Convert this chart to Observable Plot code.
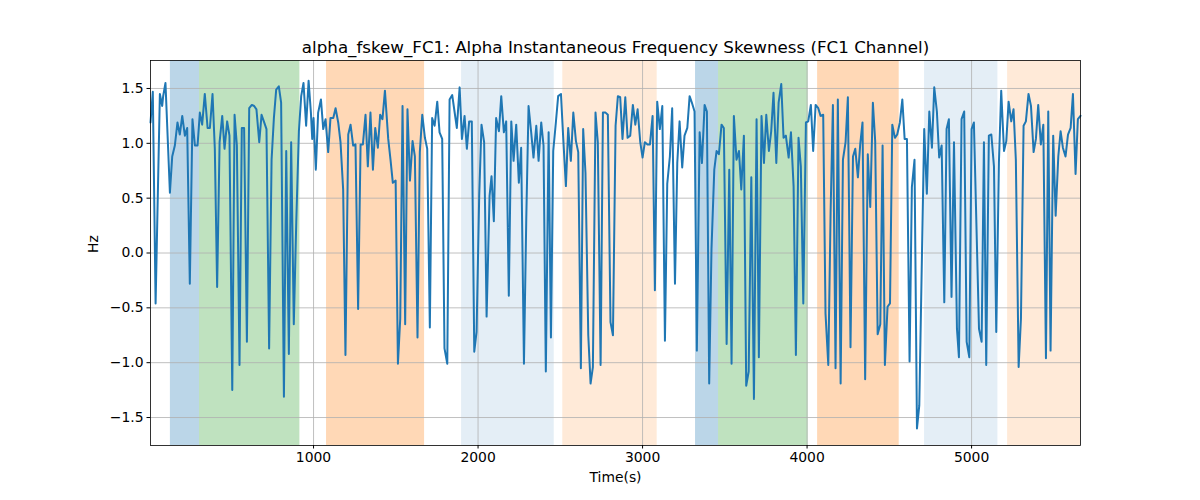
<!DOCTYPE html>
<html><head><meta charset="utf-8">
<script src="https://cdn.jsdelivr.net/npm/d3@7"></script>
<script src="https://cdn.jsdelivr.net/npm/@observablehq/plot@0.6"></script>
<style>body{margin:0;background:#fff;} #chart svg{display:block}</style>
</head><body><div id="chart"></div>
<script>
const times = [9,23,40,66,80,86,100,127,141,157,173,187,202,218,232,248,264,279,295,309,323,339,356,370,386,400,414,429,445,459,475,489,506,520,534,550,564,578,595,609,625,639,653,670,684,698,714,730,
745,759,773,789,803,820,834,850,864,880,895,911,925,939,955,970,984,992,1000,1014,1028,1045,1059,1073,1089,1103,1120,1134,1150,1164,1180,1194,1211,1225,1241,1255,1271,1286,1300,1316,1330,1346,1361,1375,1391,1405,1419,1434,
1454,1468,1482,1499,1513,1527,1541,1557,1571,1586,1602,1616,1632,1646,1661,1677,1691,1707,1721,1736,1752,1766,1782,1796,1813,1827,1843,1857,1871,1888,1902,1918,1932,1946,1962,1977,1991,2007,2021,2037,2052,2070,2082,2096,2110,2127,2141,2157,2171,2187,
2202,2216,2232,2248,2262,2279,2293,2307,2323,2337,2354,2368,2384,2398,2412,2429,2443,2457,2473,2487,2504,2518,2534,2548,2564,2579,2595,2609,2625,2639,2653,2670,2684,2698,2714,2728,2745,2759,2775,2789,2805,2820,2836,2850,2864,2878,2895,2909,
2925,2941,2956,2970,2986,3000,3014,3030,3045,3061,3075,3089,3105,3120,3136,3150,3166,3180,3197,3211,3225,3241,3255,3272,3286,3300,3316,3330,3347,3361,3377,3391,3405,3419,3436,3450,3464,3480,3494,3511,3527,3541,3555,3571,3586,3600,3616,3630,3645,
3661,3677,3693,3707,3723,3738,3752,3768,3782,3796,3813,3827,3843,3857,3871,3888,3902,3918,3932,3948,3962,3977,3993,4007,4023,4037,4052,4068,4082,4098,4112,4129,4143,4157,4173,4187,4204,4218,4234,4248,4264,4279,4293,4309,4323,4337,4353,4369,
4384,4400,4414,4429,4445,4459,4473,4489,4504,4518,4534,4548,4564,4579,4593,4607,4623,4637,4653,4668,4682,4712,4728,4743,4759,4773,4789,4803,4818,4834,4848,4862,4878,4893,4911,4923,4939,4955,
4970,4986,5000,5014,5045,5061,5075,5089,5105,5120,5136,5150,5166,5180,5197,5211,5225,5241,5255,5269,5286,5300,5316,5330,5346,5361,5377,5391,5405,5421,5436,5452,5466,5480,5496,5511,5527,5541,5555,5571,5586,5602,5616,5632,5646,5662];
const values = [1.19,1.47,-0.46,1.45,1.34,1.43,1.55,0.55,0.88,0.98,1.19,1.08,1.25,1.07,1.14,-0.28,1.22,0.98,0.98,1.28,1.17,1.45,1.14,1.14,1.45,0.95,-0.31,1.01,1.25,0.95,1.20,1.07,-1.25,1.26,0.98,-1.02,1.14,1.14,-0.81,1.32,1.35,1.34,1.31,1.01,1.26,1.20,1.13,-0.87,
0.85,1.23,1.49,1.52,1.37,-1.31,0.93,-0.92,1.01,-0.65,0.28,1.11,1.43,1.55,1.16,1.57,1.28,1.04,1.23,0.76,1.28,1.40,1.13,1.22,0.92,1.23,1.23,1.32,1.19,1.01,0.58,-0.93,1.08,1.17,0.98,0.99,-0.51,0.99,0.99,1.26,0.79,1.28,0.76,1.14,0.96,1.26,1.22,1.48,
1.04,0.85,0.64,0.66,-1.01,-0.60,1.34,-0.65,1.31,0.66,1.02,0.88,-0.77,0.92,1.26,1.05,0.95,-0.68,1.23,1.16,1.38,1.10,1.04,-0.87,-1.01,1.40,1.44,1.29,1.14,1.51,1.04,1.25,0.95,1.20,1.20,-0.90,-0.72,0.52,1.17,1.01,-0.58,0.52,0.70,0.29,1.23,1.11,1.43,1.10,1.20,-0.39,
1.20,0.84,1.17,0.64,0.96,-1.01,0.30,1.34,1.10,0.87,1.16,0.84,1.19,0.98,-1.08,1.10,-0.77,0.93,1.19,1.43,1.45,1.04,0.61,1.14,0.84,1.28,1.02,0.92,-1.05,1.13,0.73,-0.75,-1.19,-1.04,1.28,1.01,-1.02,1.28,1.28,1.26,-0.63,-0.75,1.16,1.43,1.42,1.04,1.42,1.05,
1.07,1.35,1.17,1.31,1.01,0.87,1.01,0.99,0.99,1.25,-0.34,1.38,1.13,1.34,-0.80,0.63,0.88,1.32,-0.28,0.82,1.20,0.78,1.07,1.14,1.43,1.37,1.29,-0.89,1.10,0.82,1.35,1.29,-1.19,0.04,0.76,0.93,0.90,1.17,1.14,-0.83,0.76,-1.01,1.25,0.85,0.93,0.58,1.07,-1.21,-1.08,
0.69,-1.33,1.22,-0.95,1.25,0.82,1.26,0.93,1.11,1.46,0.82,1.37,1.54,1.05,1.07,0.87,1.10,0.61,-0.93,1.05,0.79,-0.46,1.19,1.20,1.35,0.93,1.35,1.32,1.25,1.26,-0.55,-1.02,0.37,1.35,-1.05,1.40,-1.19,0.85,1.01,1.42,-0.86,0.88,0.95,0.69,0.99,1.19,-1.15,0.90,
0.42,1.37,1.02,-0.74,-0.65,0.98,-1.02,-0.49,-0.46,1.17,1.05,1.08,1.19,1.40,1.04,1.04,-0.99,0.60,0.85,-1.60,-1.39,1.13,0.54,1.29,0.96,1.51,1.29,0.87,0.98,-0.45,1.13,1.22,-0.40,1.01,-0.69,-0.95,1.22,1.29,
-0.81,-0.95,1.13,1.19,-0.69,-0.81,1.01,-1.02,1.07,1.08,0.79,-0.72,0.82,1.48,0.93,1.02,1.38,1.20,1.31,0.85,-1.04,-0.60,1.16,1.20,1.45,1.34,0.92,1.04,1.35,0.99,1.17,-0.96,1.29,-0.89,1.07,0.34,0.88,1.11,0.96,0.88,1.08,1.14,1.45,0.72,1.22,1.25];
const spanStart = [130, 307, 1079, 1900, 2515, 3322, 3462, 4064, 4714, 5219];
const spanEnd   = [307, 917, 1675, 2463, 3089, 3462, 4007, 4560, 5160, 5662];
const spanColor = ["#1f77b4","#2ca02c","#ff7f0e","#1f77b4","#ff7f0e","#1f77b4","#2ca02c","#ff7f0e","#1f77b4","#ff7f0e"];
const spanAlpha = [0.3,0.3,0.3,0.12,0.16,0.3,0.3,0.3,0.12,0.16];
const xTicks = [1000,2000,3000,4000,5000];
const yTicks = [-1.5,-1,-0.5,0,0.5,1,1.5];
const titleText = "alpha_fskew_FC1: Alpha Instantaneous Frequency Skewness (FC1 Channel)";
const xLabel = "Time(s)";
const yLabel = "Hz";

const series = times.map((t, i) => ({t, v: values[i]}));
const spans = spanStart.map((s, i) => ({s, e: spanEnd[i], c: spanColor[i], a: spanAlpha[i]}));
const fmt = d => (d < 0 ? "\u2212" : "") + Math.abs(d).toFixed(1);

const chart = Plot.plot({
  width: 1200, height: 500,
  marginLeft: 150, marginRight: 120, marginTop: 60, marginBottom: 55,
  style: {fontFamily: "DejaVu Sans", fontSize: "13.9px", background: "white", color: "black"},
  x: {domain: [9, 5662]},
  y: {domain: [-1.755, 1.755]},
  color: {type: "identity"},
  opacity: {type: "identity"},
  marks: [
    Plot.rect(spans, {x1: "s", x2: "e", fill: "c", fillOpacity: "a"}),
    Plot.gridX(xTicks, {stroke: "#b0b0b0", strokeOpacity: 1, strokeWidth: 0.8}),
    Plot.gridY(yTicks, {stroke: "#b0b0b0", strokeOpacity: 1, strokeWidth: 0.8}),
    Plot.line(series, {x: "t", y: "v", stroke: "#1f77b4", strokeWidth: 2}),
    Plot.frame({stroke: "black", strokeWidth: 0.8}),
    Plot.axisX(xTicks, {tickSize: 3.5, tickPadding: 3.5, fontSize: 13.9, label: null, tickFormat: d => String(d)}),
    Plot.axisY(yTicks, {tickSize: 3.5, tickPadding: 3.5, fontSize: 13.9, label: null, tickFormat: fmt}),
    Plot.text([titleText], {text: d => d, frameAnchor: "top", lineAnchor: "bottom", dy: -8, fontSize: 16.7}),
    Plot.text([xLabel], {text: d => d, frameAnchor: "bottom", dy: 36, fontSize: 13.9}),
    Plot.text([yLabel], {text: d => d, frameAnchor: "left", dx: -57, rotate: -90, fontSize: 13.9})
  ]
});
document.getElementById("chart").appendChild(chart);
</script>
</body></html>
